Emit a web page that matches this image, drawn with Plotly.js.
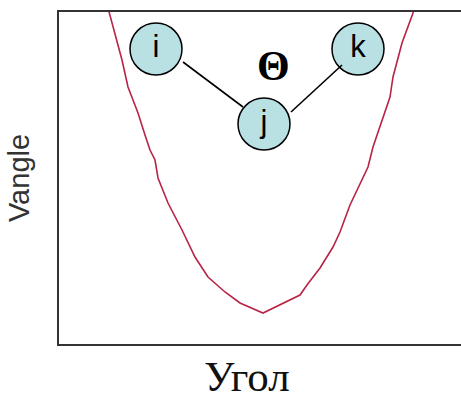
<!DOCTYPE html>
<html>
<head>
<meta charset="utf-8">
<script src="https://cdn.plot.ly/plotly-3.0.1.min.js"></script>
<style>
  html, body { margin: 0; padding: 0; background: #ffffff; }
  #chart { width: 461px; height: 400px; }
</style>
</head>
<body>
<div id="chart"></div>
<script>
// Potential-energy curve: bend angle vs. angle energy (arbitrary units)
const angle  = [49, 56, 63, 69, 79, 86, 91, 96, 99, 109, 123, 136, 149, 166, 181, 204,
                221, 241, 248, 261, 274, 281, 291, 304, 309, 314, 324, 331, 334, 343, 354, 355];
const vangle = [336, 311, 284, 257, 231, 209, 194, 184, 166, 141, 114, 87, 67, 52, 41, 31,
                39, 49, 59, 76, 97, 112, 139, 167, 177, 197, 227, 247, 267, 301, 331, 336];

// Schematic of the three bonded atoms i-j-k
const atomLabels = ['i', 'j', 'k'];
const atomX = [97, 205, 299];
const atomY = [295, 220, 295];

// Bonds (pairs separated by null)
const bondX = [124, 184, null, 232, 283];
const bondY = [282, 237, null, 232, 279];

const thetaLabel = 'Θ';
const thetaX = 214;
const thetaY = 278;

const xTitle = 'Угол';
const yTitle = 'Vangle';

const traces = [
  {
    x: angle, y: vangle, type: 'scatter', mode: 'lines',
    line: { color: '#b82346', width: 1.6 },
    hoverinfo: 'skip', showlegend: false
  },
  {
    x: atomX, y: atomY, type: 'scatter', mode: 'markers+text',
    text: atomLabels, textposition: 'middle center',
    textfont: { family: 'Liberation Sans, Arial, sans-serif', size: 31, color: '#000000' },
    marker: { size: 52, color: '#b9e0e2', line: { color: '#000000', width: 1.5 } },
    hoverinfo: 'skip', showlegend: false, cliponaxis: false
  },
  {
    x: bondX, y: bondY, type: 'scatter', mode: 'lines',
    line: { color: '#000000', width: 1.6 },
    hoverinfo: 'skip', showlegend: false
  }
];

const layout = {
  width: 461, height: 400,
  margin: { l: 59, r: 0, t: 12, b: 56 },
  paper_bgcolor: '#ffffff', plot_bgcolor: '#ffffff',
  showlegend: false,
  xaxis: {
    range: [0, 402], showgrid: false, zeroline: false,
    showticklabels: false, ticks: '',
    showline: true, linecolor: '#333333', linewidth: 2, mirror: true,
    fixedrange: true
  },
  yaxis: {
    range: [0, 332], showgrid: false, zeroline: false,
    showticklabels: false, ticks: '',
    showline: true, linecolor: '#333333', linewidth: 2,
    title: { text: yTitle, standoff: 19,
             font: { family: 'Liberation Sans, Arial, sans-serif', size: 29, color: '#333333' } },
    fixedrange: true
  },
  annotations: [
    {
      x: thetaX, y: thetaY, xref: 'x', yref: 'y', text: thetaLabel, showarrow: false,
      font: { family: 'Liberation Serif, Times New Roman, serif', size: 42, color: '#000000', weight: 'bold' },
      xanchor: 'center', yanchor: 'middle'
    },
    {
      x: 0.4677, y: -0.098, xref: 'paper', yref: 'paper', text: xTitle, showarrow: false,
      font: { family: 'Liberation Serif, Times New Roman, serif', size: 43, color: '#111111' },
      xanchor: 'center', yanchor: 'middle'
    }
  ]
};

Plotly.newPlot('chart', traces, layout, { displayModeBar: false, staticPlot: true });
</script>
</body>
</html>
